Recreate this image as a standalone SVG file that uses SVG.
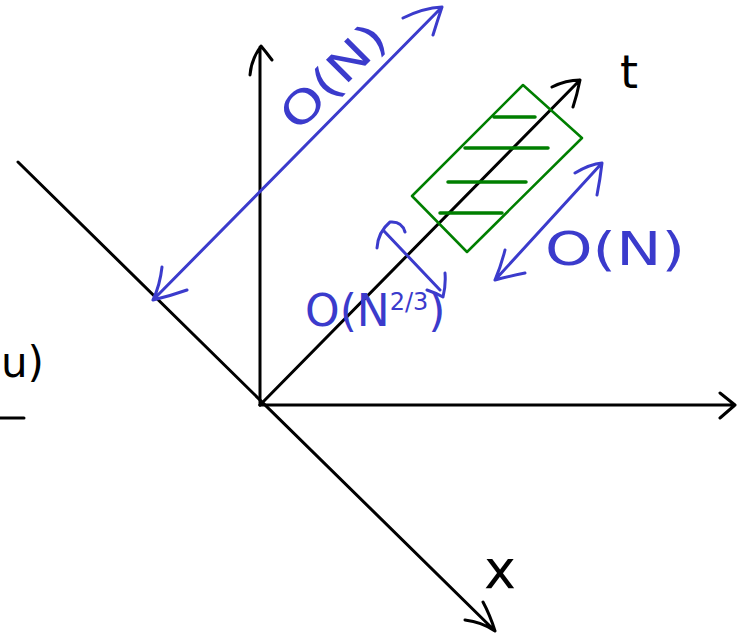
<svg xmlns="http://www.w3.org/2000/svg" width="737" height="639" viewBox="0 0 737 639">
<style>
.k{stroke:#000;stroke-width:3;fill:none;stroke-linecap:round;stroke-linejoin:round}
.b{stroke:#3b3bcc;stroke-width:3;fill:none;stroke-linecap:round;stroke-linejoin:round}
.g{stroke:#007f00;stroke-width:2.5;fill:none;stroke-linecap:round;stroke-linejoin:round}
.gh{stroke:#007f00;stroke-width:3.5;fill:none;stroke-linecap:round}
.tb{fill:#3b3bcc;font-family:"DejaVu Sans",sans-serif}
.tk{fill:#000;font-family:"DejaVu Sans",sans-serif}
</style>
<rect width="737" height="639" fill="#fff"/>
<g id="connectors">
  <g id="axes">
    <path class="k" d="M260,405 L260,47 M250,75 Q251,60 261,46 Q266,52 272,60"/>
    <path class="k" d="M260,405 L735,405 M720,393 L735,405 L720,418"/>
    <path class="k" d="M18,162 L495,631 M465,620 Q482,622 495,631 Q490,615 483,602"/>
    <path class="k" d="M260,405 L580,80 M552,87 Q566,80 580,80 Q577,95 573,107"/>
    <path class="k" d="M0,418 L24,418"/>
  </g>
  <g id="dim-big">
    <path class="b" d="M153,300 L442,7 M403,18 Q423,8 442,7 Q437,22 433,35 M162,267 Q160,285 153,300 Q170,296 187,290"/>
  </g>
  <g id="dim-small">
    <path class="b" d="M383,230 L440,290 M377,248 Q378,232 390,222 Q402,221 405,232 M427,290 Q436,293 443,297 Q446,285 445,273"/>
  </g>
  <g id="dim-right">
    <path class="b" d="M602,163 L495,280 M575,173 Q590,164 602,163 Q600,180 597,195 M505,250 Q501,266 495,280 Q510,276 525,273"/>
  </g>
</g>
<g id="box">
  <path class="g" d="M523,85 L582,138 L467,252 L412,196 Z"/>
  <path class="gh" d="M494,117 L535,117 M465,148 L548,148 M448,182 L526,182 M440,213 L502,213"/>
</g>
<g id="labels">
  <text class="tk" x="620" y="88" font-size="46">t</text>
  <text class="tk" x="500" y="588" font-size="54" text-anchor="middle">x</text>
  <text class="tk" x="1" y="377" font-size="42">u)</text>
  <text class="tb" transform="translate(344,87) rotate(-45)" x="0" y="0" font-size="44" text-anchor="middle" textLength="130" lengthAdjust="spacingAndGlyphs">O(N)</text>
  <text class="tb" x="545" y="265" font-size="46" textLength="140" lengthAdjust="spacingAndGlyphs">O(N)</text>
  <text class="tb" x="305" y="326" font-size="44">O(N<tspan font-size="24" dy="-16">2/3</tspan><tspan dy="16">)</tspan></text>
</g>
</svg>
